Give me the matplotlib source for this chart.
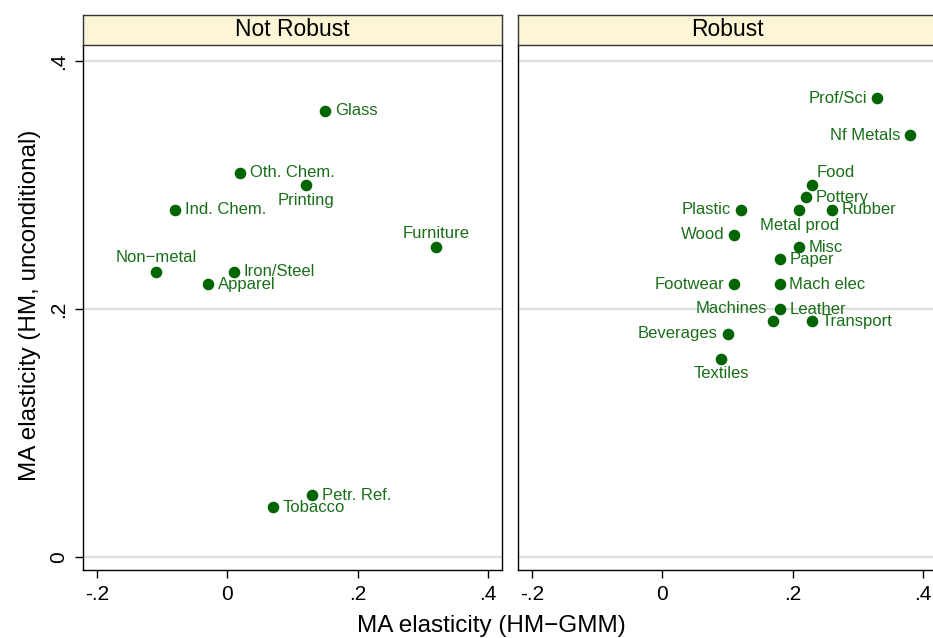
import matplotlib
matplotlib.use("Agg")
import matplotlib.pyplot as plt

plt.rcParams['font.family'] = ['Liberation Sans', 'DejaVu Sans']

# Not Robust panel
nr_names = ["Glass", "Oth. Chem.", "Printing", "Ind. Chem.", "Furniture",
            "Non\u2212metal", "Iron/Steel", "Apparel", "Petr. Ref.", "Tobacco"]
nr_x = [0.15, 0.02, 0.12, -0.08, 0.32, -0.11, 0.01, -0.03, 0.13, 0.07]
nr_y = [0.36, 0.31, 0.30, 0.28, 0.25, 0.23, 0.23, 0.22, 0.05, 0.04]
nr_pos = ["r", "r", "b", "r", "t", "t", "r", "r", "r", "r"]

# Robust panel
r_names = ["Prof/Sci", "Nf Metals", "Food", "Pottery", "Metal prod", "Rubber",
           "Plastic", "Wood", "Misc", "Paper", "Footwear", "Mach elec",
           "Leather", "Machines", "Transport", "Beverages", "Textiles"]
r_x = [0.33, 0.38, 0.23, 0.22, 0.21, 0.26, 0.12, 0.11, 0.21, 0.18, 0.11,
       0.18, 0.18, 0.17, 0.23, 0.10, 0.09]
r_y = [0.37, 0.34, 0.30, 0.29, 0.28, 0.28, 0.28, 0.26, 0.25, 0.24, 0.22,
       0.22, 0.20, 0.19, 0.19, 0.18, 0.16]
r_pos = ["l", "l", "tr", "r", "b", "r", "l", "l", "r", "r", "l", "r",
         "r", "tl", "r", "l", "b"]

panel_titles = ["Not Robust", "Robust"]
x_ticks = [-0.2, 0, 0.2, 0.4]
x_ticklabels = ["-.2", "0", ".2", ".4"]
y_ticks = [0, 0.2, 0.4]
y_ticklabels = ["0", ".2", ".4"]

W, H = 933, 638
fig = plt.figure(figsize=(W / 100, H / 100), dpi=100)

green = "#006400"
lab_green = "#1a6e1a"

def px(x0, y_top, w, h):
    return [x0 / W, 1 - (y_top + h) / H, w / W, h / H]

offsets = {
    "r": ((7, 0), "left", "center"),
    "l": ((-7, 0), "right", "center"),
    "t": ((0, 10), "center", "center"),
    "b": ((0, -11), "center", "center"),
    "tr": ((3, 9), "left", "center"),
    "tl": ((-4, 9), "right", "center"),
}

XL = -0.222
UNIT = 0.644 / 419  # data units per pixel
panels = [(83, 419, nr_x, nr_y, nr_names, nr_pos),
          (518, 440, r_x, r_y, r_names, r_pos)]
for i, (x0, pw, xs, ys, names, poss) in enumerate(panels):
    ax = fig.add_axes(px(x0, 45, pw, 525))
    ax.set_xlim(XL, XL + pw * UNIT)
    ax.set_ylim(-0.0105, 0.413)
    for yv in y_ticks:
        ax.axhline(yv, color="#dedede", lw=1.6, zorder=0)
    ax.scatter(xs, ys, s=70, color=green, zorder=3, linewidths=0)
    for x, y, n, p in zip(xs, ys, names, poss):
        off, ha, va = offsets[p]
        ax.annotate(n, (x, y), xytext=off, textcoords="offset points",
                    ha=ha, va=va, fontsize=12, color=lab_green, zorder=4)
    ax.set_xticks(x_ticks)
    ax.set_xticklabels(x_ticklabels, fontsize=15)
    ax.tick_params(axis="x", direction="out", length=6, width=1, pad=5)
    if i == 0:
        ax.set_yticks(y_ticks)
        ax.set_yticklabels(y_ticklabels, fontsize=15, rotation=90, va="center")
        ax.tick_params(axis="y", direction="out", length=6, width=1, pad=5)
    else:
        ax.set_yticks([])
    for sp in ax.spines.values():
        sp.set_color("black")
        sp.set_linewidth(1.0)
    ax.spines["top"].set_visible(False)

    hx = fig.add_axes(px(x0, 15, pw, 30))
    hx.set_facecolor("#fcf5d6")
    hx.set_xticks([])
    hx.set_yticks([])
    for sp in hx.spines.values():
        sp.set_color("#333333")
        sp.set_linewidth(1.0)
    hx.text(209.5 / pw, 0.5, panel_titles[i], ha="center", va="center",
            fontsize=16.5, color="black", transform=hx.transAxes)

fig.text(491 / W, 1 - 626 / H, "MA elasticity (HM\u2212GMM)", ha="center",
         va="center", fontsize=17.5)
fig.text(30 / W, 1 - 305 / H, "MA elasticity (HM, unconditional)", ha="center",
         va="center", rotation=90, fontsize=17.5)

fig.savefig("out.png", dpi=100, facecolor="white")
